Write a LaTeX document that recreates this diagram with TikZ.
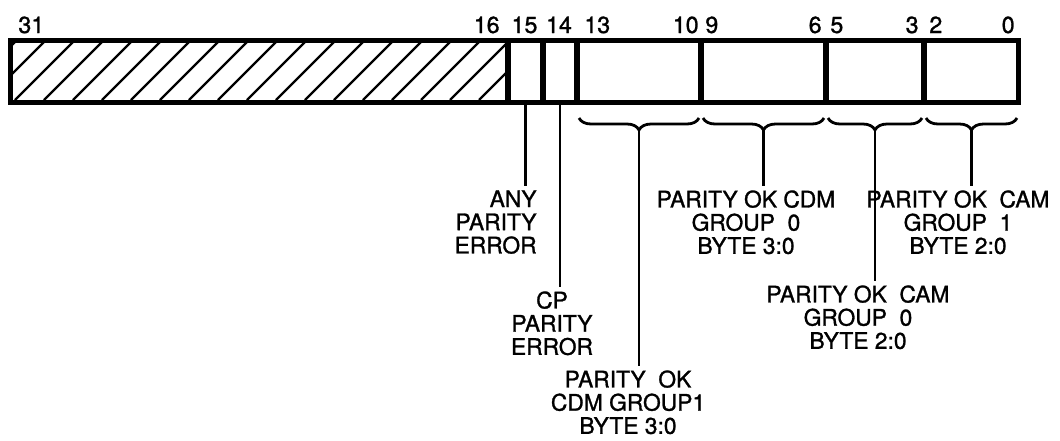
\documentclass[tikz,border=0pt]{standalone}
\usepackage{fontspec}
\setmainfont{TeX Gyre Heros}[FakeBold=1.2]
\usetikzlibrary{decorations.pathreplacing}

\begin{document}
\begin{tikzpicture}[x=0.5pt, y=-0.5pt,
    field/.style={draw, line width=1.5pt, minimum height=30pt, inner sep=0pt, anchor=north west},
    bitno/.style={inner sep=0pt, font=\fontsize{11.6}{12}\selectfont},
    lbl/.style={inner xsep=0pt, inner ysep=2pt, font=\fontsize{11.4}{11.6}\selectfont},
    lead/.style={line width=1.4pt},
    brace/.style={decorate, decoration={brace, mirror, amplitude=6pt}, line width=1.4pt}]
    \useasboundingbox (0,0) rectangle (1060,440);
    % register fields, bit 31 down to bit 0
    \node[field, minimum width=247.5pt] (res) at (10,40) {};
    \node[field, minimum width=16pt] (f15) at (res.north east) {};
    \node[field, minimum width=15.5pt] (f14) at (f15.north east) {};
    \node[field, minimum width=60.5pt] (f1310) at (f14.north east) {};
    \node[field, minimum width=61pt] (f96) at (f1310.north east) {};
    \node[field, minimum width=47.5pt] (f53) at (f96.north east) {};
    \node[field, minimum width=46pt] (f20) at (f53.north east) {};
    % reserved bits are hatched
    \begin{scope}
        \clip (res.south west) rectangle (res.north east);
        \foreach \x in {-43,-14,...,520}
            \draw[line width=1.2pt] (\x,100) -- ++(60,-60);
    \end{scope}
    \draw[line width=2pt] (res.north west) rectangle (f20.south east);
    % bit numbers
    \node[bitno, anchor=base west] (b31) at ([shift={(8,-7)}]res.north west) {31};
    \node[bitno, anchor=base east] (b16) at ([shift={(-8,-7)}]res.north east) {16};
    \node[bitno, anchor=base] (b15) at ([shift={(-1,-7)}]f15.north) {15};
    \node[bitno, anchor=base] (b14) at ([shift={(-1,-7)}]f14.north) {14};
    \node[bitno, anchor=base west] (b13) at ([shift={(7,-7)}]f1310.north west) {13};
    \node[bitno, anchor=base east] (b10) at ([shift={(-2,-7)}]f1310.north east) {10};
    \node[bitno, anchor=base west] (b9) at ([shift={(4,-7)}]f96.north west) {9};
    \node[bitno, anchor=base east] (b6) at ([shift={(-4,-7)}]f96.north east) {6};
    \node[bitno, anchor=base west] (b5) at ([shift={(4,-7)}]f53.north west) {5};
    \node[bitno, anchor=base east] (b3) at ([shift={(-5,-7)}]f53.north east) {3};
    \node[bitno, anchor=base west] (b2) at ([shift={(5,-7)}]f20.north west) {2};
    \node[bitno, anchor=base east] (b0) at ([shift={(-4,-7)}]f20.north east) {0};
    % braces under the multi-bit fields
    \foreach \f in {f1310,f96,f53,f20} {
        \draw[brace] ([shift={(2,15)}]\f.south west) -- ([shift={(-2,15)}]\f.south east);
        \path (\f.south) ++(0,27) coordinate (t-\f);
    }
    % field names
    \node[lbl, align=right, anchor=north east] (anyerr) at (537,186) {ANY\\PARITY\\ERROR};
    \node[lbl, align=center, anchor=north] (cperr) at (552,287) {CP\\PARITY\\ERROR};
    \node[lbl, align=center, anchor=north] (cdm1) at (628,366) {PARITY~ OK\\CDM GROUP1\\BYTE 3:0};
    \node[lbl, align=center, anchor=north] (cdm0) at (746,186) {PARITY OK CDM\\GROUP~ 0\\BYTE 3:0};
    \node[lbl, align=center, anchor=north] (cam0) at (858,281) {PARITY OK~ CAM\\GROUP~ 0\\BYTE 2:0};
    \node[lbl, align=center, anchor=north] (cam1) at (958,186) {PARITY OK~ CAM\\GROUP~ 1\\BYTE 2:0};
    % leader lines
    \draw[lead] (f15.south) -- (f15.south |- anyerr.north);
    \draw[lead] (f14.south) -- (f14.south |- cperr.north);
    \draw[lead] (t-f1310) -- (t-f1310 |- cdm1.north);
    \draw[lead] (t-f96) -- (t-f96 |- cdm0.north);
    \draw[lead] (t-f53) -- (t-f53 |- cam0.north);
    \draw[lead] (t-f20) -- (t-f20 |- cam1.north);
\end{tikzpicture}
\end{document}
